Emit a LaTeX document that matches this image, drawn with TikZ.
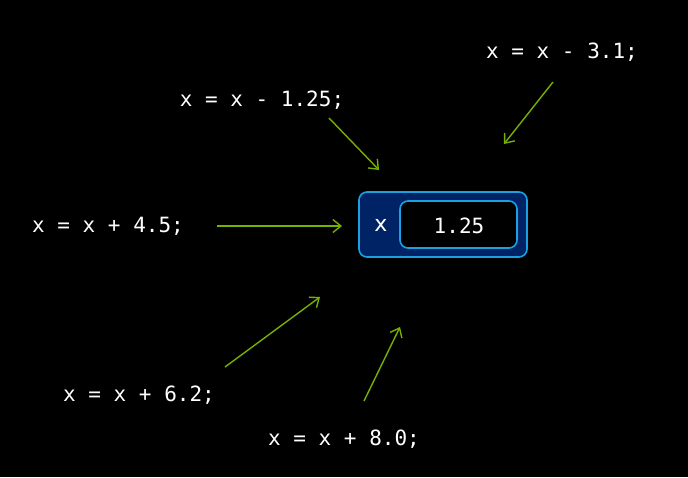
\documentclass[tikz,border=0pt]{standalone}
\usepackage{fontspec}
\setmonofont{DejaVu Sans Mono}
\setsansfont{DejaVu Sans}
\usetikzlibrary{arrows.meta}
\definecolor{arrgreen}{HTML}{76B000}
\definecolor{boxblue}{HTML}{1BA1E2}
\definecolor{boxfill}{HTML}{002366}
\tikzset{
  code/.style={text=white, font=\ttfamily\fontsize{21}{25}\selectfont, inner sep=0pt, anchor=center},
  arr/.style={draw=arrgreen, line width=1.4pt, -{Straight Barb[length=8pt,width=13pt,line width=1.4pt]}},
  outerbox/.style={draw=boxblue, fill=boxfill, line width=1.6pt, rounded corners=8pt},
  innerbox/.style={draw=boxblue, fill=black, line width=1.6pt, rounded corners=8pt}
}
\begin{document}
\begin{tikzpicture}[x=1pt,y=-1pt]
\fill[black] (0,0) rectangle (688,477);
\useasboundingbox (0,0) rectangle (688,477);
\draw[outerbox] (359,192) rectangle (527,257);
\draw[innerbox] (400,201) rectangle (517,248);
\node[text=white, font=\sffamily\fontsize{22}{26}\selectfont, inner sep=0pt] (xl) at (381,225) {x};
\node[code] (val) at (459,226) {1.25};
\node[code] (t1) at (562,52) {x = x - 3.1;};
\node[code] (t2) at (262,100) {x = x - 1.25;};
\node[code] (t3) at (108,226) {x = x + 4.5;};
\node[code] (t4) at (139,395) {x = x + 6.2;};
\node[code] (t5) at (344,439) {x = x + 8.0;};
\coordinate (s1) at (553,82);  \coordinate (e1) at (504,144);
\coordinate (s2) at (329,118); \coordinate (e2) at (379,170);
\coordinate (s3) at (217,226); \coordinate (e3) at (342,226);
\coordinate (s4) at (225,367); \coordinate (e4) at (320,297);
\coordinate (s5) at (364,401); \coordinate (e5) at (400,327);
\draw[arr] (s1) -- (e1);
\draw[arr] (s2) -- (e2);
\draw[arr] (s3) -- (e3);
\draw[arr] (s4) -- (e4);
\draw[arr] (s5) -- (e5);
\end{tikzpicture}
\end{document}
